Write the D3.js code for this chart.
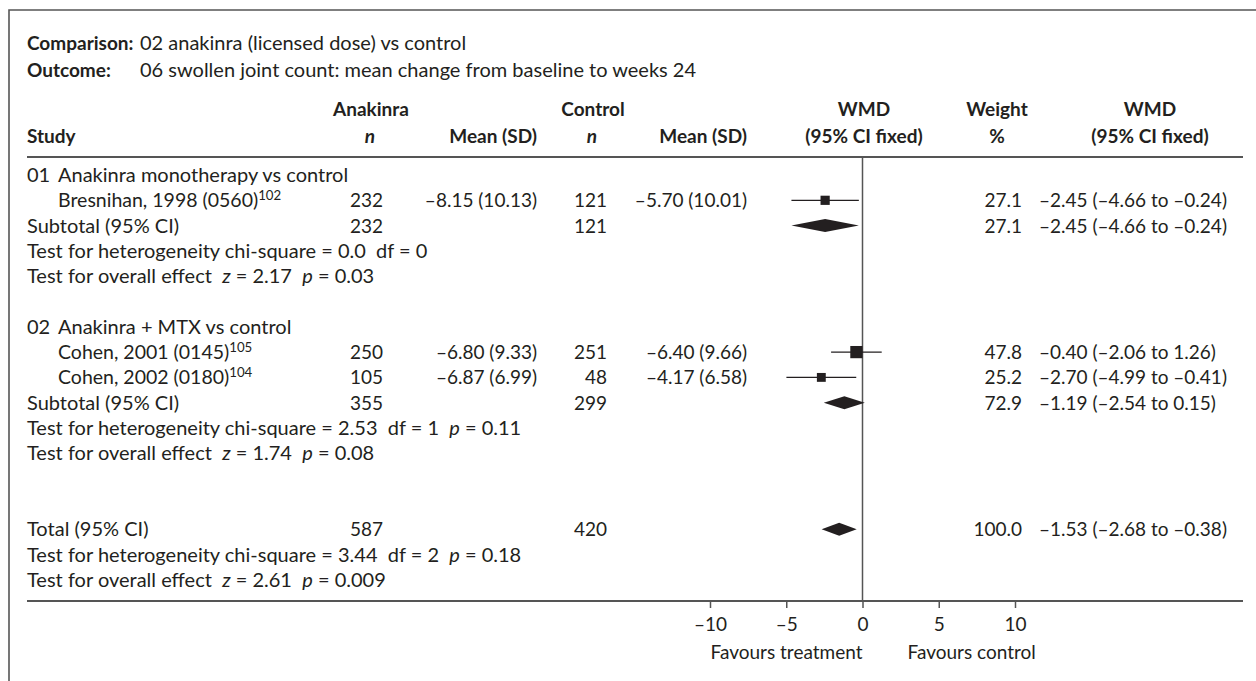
<!DOCTYPE html>
<html>
<head>
<meta charset="utf-8">
<script src="https://cdn.jsdelivr.net/npm/d3@7.9.0/dist/d3.min.js"></script>
<style>
  html, body { margin: 0; padding: 0; background: #fff; }
  svg text { font-family: Lato, "Open Sans", sans-serif; fill: #231f20; white-space: pre; }
</style>
</head>
<body>
<div id="chart"></div>
<script>
// --- data ---
const comparison = "02 anakinra (licensed dose) vs control";
const outcome = "06 swollen joint count: mean change from baseline to weeks 24";

const groupNums = ["01", "02"];
const groupLabels = ["Anakinra monotherapy vs control", "Anakinra + MTX vs control"];

const studyNames = ["Bresnihan, 1998 (0560)", "Cohen, 2001 (0145)", "Cohen, 2002 (0180)"];
const studyRefs = ["102", "105", "104"];
const studyGroup = [0, 1, 1];
const treatN = [232, 250, 105];
const treatMean = [-8.15, -6.80, -6.87];
const treatSD = [10.13, 9.33, 6.99];
const ctrlN = [121, 251, 48];
const ctrlMean = [-5.70, -6.40, -4.17];
const ctrlSD = [10.01, 9.66, 6.58];
const studyWeight = [27.1, 47.8, 25.2];
const studyWmd = [-2.45, -0.40, -2.70];
const studyLo = [-4.66, -2.06, -4.99];
const studyHi = [-0.24, 1.26, -0.41];

const subTreatN = [232, 355];
const subCtrlN = [121, 299];
const subWeight = [27.1, 72.9];
const subWmd = [-2.45, -1.19];
const subLo = [-4.66, -2.54];
const subHi = [-0.24, 0.15];
const hetChi = ["0.0", "2.53"];
const hetDf = ["0", "1"];
const hetP = [null, "0.11"];
const effZ = ["2.17", "1.74"];
const effP = ["0.03", "0.08"];

const totalTreatN = 587;
const totalCtrlN = 420;
const totalWeight = 100.0;
const totalWmd = -1.53;
const totalLo = -2.68;
const totalHi = -0.38;
const totalChi = "3.44", totalDf = "2", totalP = "0.18";
const totalZ = "2.61", totalEffP = "0.009";

const axisTicks = [-10, -5, 0, 5, 10];

// --- layout ---
const W = 1256, H = 681;
const FS = 20, NS = 19;   // prose size, number-column size
const ink = "#231f20", rule = "#555";
const left = 27, indent = 58, ruleRight = 1243;
const col = { tN: 383, tMean: 537, cN: 607, cMean: 747, wmdHead: 864, wt: 1022, wtHead: 997, ci: 1039, ciHead: 1150 };
const headRuleY = 157, axisY = 601;
const rowY = i => 175 + 25.3 * i;   // row centres

const x = d3.scaleLinear().domain([-10, 10]).range([710, 1015]);
const box = d3.scaleSqrt().domain([0, 50]).range([0, 12.5]);

const dash = v => (v < 0 ? "\u2013" : "") + Math.abs(v).toFixed(2);
const ciText = (m, lo, hi) => `${dash(m)} (${dash(lo)} to ${dash(hi)})`;
const msd = (m, sd) => `${dash(m)} (${sd.toFixed(2)})`;

const svg = d3.select("#chart").append("svg")
  .attr("width", W).attr("height", H)
  .attr("viewBox", `0 0 ${W} ${H}`);

function txt(g, xx, y, parts, opts = {}) {
  const size = opts.size || FS;
  const t = g.append("text")
    .attr("x", xx).attr("y", y)
    .attr("font-size", size)
    .attr("font-weight", opts.bold ? "bold" : null)
    .attr("text-anchor", opts.anchor || "start");
  (Array.isArray(parts) ? parts : [[parts]]).forEach(([s, st]) => {
    const sp = t.append("tspan").text(s);
    if (st === "i") sp.attr("font-style", "italic");
    if (st === "sup") sp.attr("font-size", size * 0.68).attr("dy", -7);
  });
  return t;
}

// frame
svg.append("path")
  .attr("d", `M9,${H} V10 H${W}`)
  .attr("fill", "none").attr("stroke", rule).attr("stroke-width", 1.6);

// title lines
const head = svg.append("g");
txt(head, left, 50, "Comparison:", { bold: true, size: 19 });
txt(head, 140, 50, comparison);
txt(head, left, 77, "Outcome:", { bold: true, size: 19 });
txt(head, 140, 77, outcome);

// column headers
const h1 = 116, h2 = 143, HS = 19;
txt(head, 371, h1, "Anakinra", { bold: true, anchor: "middle", size: HS });
txt(head, 593, h1, "Control", { bold: true, anchor: "middle", size: HS });
txt(head, col.wmdHead, h1, "WMD", { bold: true, anchor: "middle", size: HS });
txt(head, col.wtHead, h1, "Weight", { bold: true, anchor: "middle", size: HS });
txt(head, col.ciHead, h1, "WMD", { bold: true, anchor: "middle", size: HS });
txt(head, left, h2, "Study", { bold: true, size: HS });
txt(head, 370, h2, [["n", "i"]], { bold: true, anchor: "middle", size: HS });
txt(head, col.tMean, h2, "Mean (SD)", { bold: true, anchor: "end", size: HS });
txt(head, 592, h2, [["n", "i"]], { bold: true, anchor: "middle", size: HS });
txt(head, col.cMean, h2, "Mean (SD)", { bold: true, anchor: "end", size: HS });
txt(head, col.wmdHead, h2, "(95% CI fixed)", { bold: true, anchor: "middle", size: HS });
txt(head, col.wtHead, h2, "%", { bold: true, anchor: "middle", size: HS });
txt(head, col.ciHead, h2, "(95% CI fixed)", { bold: true, anchor: "middle", size: HS });

// rules + zero line
svg.append("line").attr("x1", left).attr("x2", ruleRight).attr("y1", headRuleY).attr("y2", headRuleY)
  .attr("stroke", rule).attr("stroke-width", 2);
svg.append("line").attr("x1", left).attr("x2", ruleRight).attr("y1", axisY).attr("y2", axisY)
  .attr("stroke", rule).attr("stroke-width", 2);
svg.append("line").attr("x1", x(0)).attr("x2", x(0)).attr("y1", headRuleY).attr("y2", axisY)
  .attr("stroke", rule).attr("stroke-width", 1.5);

const body = svg.append("g");
const base = i => rowY(i) + 7;
const num = { size: NS, anchor: "end" };

function diamond(cy, m, lo, hi) {
  const hh = 6.5;
  body.append("path")
    .attr("d", `M${x(lo)},${cy} L${x(m)},${cy - hh} L${x(hi)},${cy} L${x(m)},${cy + hh} Z`)
    .attr("fill", ink);
}

function hetLine(r, chi, df, p) {
  const parts = [[`Test for heterogeneity chi-square = ${chi}  df = ${df}`]];
  if (p) { parts.push(["  "]); parts.push(["p", "i"]); parts.push([` = ${p}`]); }
  txt(body, left, base(r), parts);
}
function effLine(r, z, p) {
  txt(body, left, base(r), [["Test for overall effect  "], ["z", "i"], [` = ${z}  `], ["p", "i"], [` = ${p}`]]);
}

let r = 0;
groupLabels.forEach((g, gi) => {
  txt(body, left, base(r), groupNums[gi]);
  txt(body, indent, base(r), g);
  r++;
  studyNames.forEach((s, si) => {
    if (studyGroup[si] !== gi) return;
    const cy = rowY(r), b = base(r);
    txt(body, indent, b, [[s], [studyRefs[si], "sup"]], { size: 19.5 });
    txt(body, col.tN, b, String(treatN[si]), num);
    txt(body, col.tMean, b, msd(treatMean[si], treatSD[si]), num);
    txt(body, col.cN, b, String(ctrlN[si]), num);
    txt(body, col.cMean, b, msd(ctrlMean[si], ctrlSD[si]), num);
    body.append("line")
      .attr("x1", x(studyLo[si])).attr("x2", x(studyHi[si]))
      .attr("y1", cy).attr("y2", cy)
      .attr("stroke", ink).attr("stroke-width", 1.2);
    const sz = box(studyWeight[si]);
    body.append("rect")
      .attr("x", x(studyWmd[si]) - sz / 2).attr("y", cy - sz / 2)
      .attr("width", sz).attr("height", sz).attr("fill", ink);
    txt(body, col.wt, b, studyWeight[si].toFixed(1), num);
    txt(body, col.ci, b, ciText(studyWmd[si], studyLo[si], studyHi[si]), { size: NS });
    r++;
  });
  const b = base(r);
  txt(body, left, b, "Subtotal (95% CI)");
  txt(body, col.tN, b, String(subTreatN[gi]), num);
  txt(body, col.cN, b, String(subCtrlN[gi]), num);
  diamond(rowY(r), subWmd[gi], subLo[gi], subHi[gi]);
  txt(body, col.wt, b, subWeight[gi].toFixed(1), num);
  txt(body, col.ci, b, ciText(subWmd[gi], subLo[gi], subHi[gi]), { size: NS });
  r++;
  hetLine(r++, hetChi[gi], hetDf[gi], hetP[gi]);
  effLine(r++, effZ[gi], effP[gi]);
  r++; // blank row
});
r++; // extra gap before total
{
  const b = base(r);
  txt(body, left, b, "Total (95% CI)");
  txt(body, col.tN, b, String(totalTreatN), num);
  txt(body, col.cN, b, String(totalCtrlN), num);
  diamond(rowY(r), totalWmd, totalLo, totalHi);
  txt(body, col.wt, b, totalWeight.toFixed(1), num);
  txt(body, col.ci, b, ciText(totalWmd, totalLo, totalHi), { size: NS });
  r++;
  hetLine(r++, totalChi, totalDf, totalP);
  effLine(r++, totalZ, totalEffP);
}

// axis
const axis = svg.append("g")
  .attr("transform", `translate(0,${axisY})`)
  .call(d3.axisBottom(x).tickValues(axisTicks).tickSize(7).tickPadding(10)
    .tickFormat(d => (d < 0 ? "\u2013" : "") + Math.abs(d)));
axis.select(".domain").remove();
axis.selectAll(".tick line").attr("stroke", rule).attr("stroke-width", 1.5);
axis.selectAll(".tick text").attr("font-size", NS).attr("font-family", null).attr("fill", ink);

txt(svg, x(0), 659, "Favours treatment", { size: NS, anchor: "end" });
txt(svg, x(0) + 45, 659, "Favours control", { size: NS });
</script>
</body>
</html>
